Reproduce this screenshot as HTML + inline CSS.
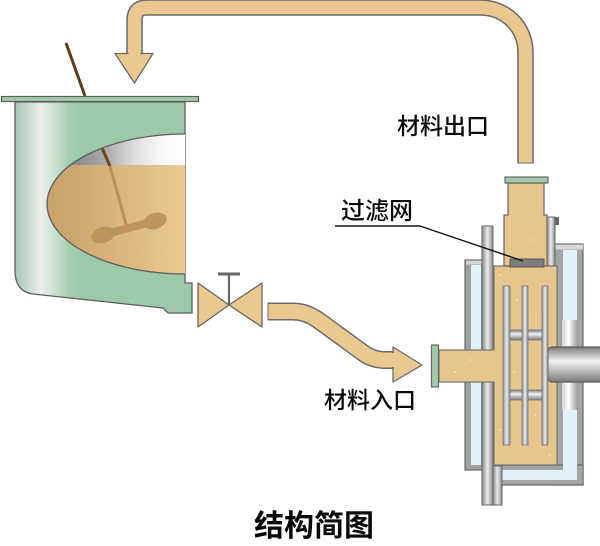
<!DOCTYPE html>
<html>
<head>
<meta charset="utf-8">
<style>
html,body{margin:0;padding:0;background:#fff;}
svg{display:block;}
text{font-family:"Liberation Sans","Noto Sans CJK SC","WenQuanYi Zen Hei",sans-serif;fill:#0a0a0a;}
</style>
</head>
<body>
<svg width="600" height="546" viewBox="0 0 600 546" xmlns="http://www.w3.org/2000/svg">
<defs>
  <linearGradient id="green" gradientUnits="userSpaceOnUse" x1="15" y1="0" x2="185" y2="0">
    <stop offset="0" stop-color="#a6c6b0"/>
    <stop offset="0.08" stop-color="#cbdcd1"/>
    <stop offset="0.15" stop-color="#eceeec"/>
    <stop offset="0.21" stop-color="#d6e5da"/>
    <stop offset="0.32" stop-color="#a4ceb0"/>
    <stop offset="0.4" stop-color="#9ccaa8"/>
    <stop offset="1" stop-color="#9ccaa8"/>
  </linearGradient>
  <linearGradient id="cutgray" gradientUnits="userSpaceOnUse" x1="60" y1="0" x2="185" y2="0">
    <stop offset="0" stop-color="#7a7a7a"/>
    <stop offset="0.35" stop-color="#a8a8a8"/>
    <stop offset="0.6" stop-color="#dedede"/>
    <stop offset="0.8" stop-color="#f8f8f8"/>
    <stop offset="1" stop-color="#ffffff"/>
  </linearGradient>
  <linearGradient id="liquid" gradientUnits="userSpaceOnUse" x1="47" y1="0" x2="185" y2="0">
    <stop offset="0" stop-color="#c8a06a"/>
    <stop offset="0.5" stop-color="#d9b47d"/>
    <stop offset="1" stop-color="#eccb93"/>
  </linearGradient>
  <linearGradient id="metalX" x1="0" y1="0" x2="1" y2="0">
    <stop offset="0" stop-color="#8a8a8a"/>
    <stop offset="0.5" stop-color="#ececec"/>
    <stop offset="1" stop-color="#8a8a8a"/>
  </linearGradient>
  <linearGradient id="metalY" x1="0" y1="0" x2="0" y2="1">
    <stop offset="0" stop-color="#7c7c7c"/>
    <stop offset="0.4" stop-color="#f2f2f2"/>
    <stop offset="1" stop-color="#7a7a7a"/>
  </linearGradient>
  <linearGradient id="bearing" x1="0" y1="0" x2="1" y2="0">
    <stop offset="0" stop-color="#d0d0d0"/>
    <stop offset="0.4" stop-color="#ffffff"/>
    <stop offset="1" stop-color="#9a9a9a"/>
  </linearGradient>
  <clipPath id="cutclip">
    <path d="M185,134 A138,70 0 0 0 185,274 Z"/>
  </clipPath>
</defs>

<rect width="600" height="546" fill="#fff"/>

<!-- ===== top return pipe ===== -->
<path d="M134.5,54 L134.5,20 Q134.5,7.5 147,7.5 L480,7.5 C506,7.5 525.5,27 525.5,53 L525.5,163.5" fill="none" stroke="#6a6a6a" stroke-width="16.5"/>
<path d="M134.5,55 L134.5,20 Q134.5,7.5 147,7.5 L480,7.5 C506,7.5 525.5,27 525.5,53 L525.5,162.5" fill="none" stroke="#eac990" stroke-width="13.5"/>
<polygon points="115,53.5 153,53.5 134.5,83" fill="#eac990" stroke="#6a6a6a" stroke-width="1.3" stroke-linejoin="round"/>
<rect x="128.5" y="52.5" width="12" height="2.5" fill="#eac990"/>

<!-- ===== tank ===== -->
<line x1="66" y1="43" x2="85" y2="96" stroke="#5c3c1c" stroke-width="3"/>
<path d="M15,102 L185,102 L185,283 L192,283 L192,313 L168,313 L163,308 L33,294 Q15,292 15,270 Z" fill="url(#green)" stroke="#5e5e5e" stroke-width="1.3"/>
<rect x="1.5" y="96.5" width="197" height="5" fill="#a0cba9" stroke="#5e5e5e" stroke-width="1.2"/>

<g clip-path="url(#cutclip)">
  <rect x="40" y="130" width="150" height="36" fill="url(#cutgray)"/>
  <rect x="40" y="165" width="150" height="115" fill="url(#liquid)"/>
  <!-- shaft -->
  <line x1="102" y1="148" x2="110" y2="166" stroke="#6a4520" stroke-width="3"/>
  <line x1="110" y1="166" x2="127" y2="228" stroke="#b8905a" stroke-width="3"/>
  <!-- blade -->
  <g fill="#bd9559">
    <ellipse cx="103" cy="235" rx="12" ry="8" transform="rotate(-18 103 235)"/>
    <ellipse cx="155" cy="221" rx="12" ry="8" transform="rotate(-18 155 221)"/>
  </g>
  <line x1="103" y1="235" x2="155" y2="221" stroke="#bd9559" stroke-width="8"/>
</g>
<path d="M185,134 A138,70 0 0 0 185,274" fill="none" stroke="#5e5e5e" stroke-width="1.3"/>

<!-- ===== valve ===== -->
<line x1="229" y1="274" x2="229" y2="305" stroke="#666" stroke-width="2.2"/>
<line x1="218" y1="274" x2="240" y2="274" stroke="#666" stroke-width="3"/>
<polygon points="198,283 198,327 229,305" fill="#eac990" stroke="#666" stroke-width="1.3" stroke-linejoin="round"/>
<polygon points="262,283 262,327 229,305" fill="#eac990" stroke="#666" stroke-width="1.3" stroke-linejoin="round"/>

<!-- ===== inlet pipe ===== -->
<path d="M267.5,311.5 L293,311.5 Q306,311.5 318,320 L362,352 Q372,360 385,360 L395,360" fill="none" stroke="#6a6a6a" stroke-width="18"/>
<path d="M268.5,311.5 L293,311.5 Q306,311.5 318,320 L362,352 Q372,360 385,360 L396,360" fill="none" stroke="#eac990" stroke-width="15"/>
<polygon points="393,347 422,365 393,382" fill="#eac990" stroke="#6a6a6a" stroke-width="1.3" stroke-linejoin="round"/>
<rect x="391.5" y="353" width="3" height="14" fill="#eac990"/>

<!-- ===== centrifuge ===== -->
<!-- right housing -->
<rect x="554" y="244" width="29" height="241" fill="#a4a4a4" stroke="#666" stroke-width="1.2"/>
<rect x="500" y="465" width="83" height="20" fill="#a4a4a4" stroke="#666" stroke-width="1.2"/>
<rect x="554.6" y="466" width="28" height="18" fill="#a4a4a4"/>
<rect x="555" y="244.5" width="28" height="5" fill="#d8d8d8"/>
<rect x="563" y="250" width="14" height="70" fill="#e2f2fa"/>
<rect x="562" y="320" width="16" height="27" fill="url(#bearing)"/>
<rect x="562" y="382" width="16" height="28" fill="url(#bearing)"/>
<path d="M563,410 H577 V480 H502 V470 H563 Z" fill="#e2f2fa"/>

<!-- left housing -->
<rect x="465" y="260" width="18" height="210" fill="#a0a0a0" stroke="#666" stroke-width="1.2"/>
<rect x="466" y="260.5" width="17" height="4" fill="#d4d4d4"/>
<rect x="471" y="265" width="10" height="200" fill="#e2f2fa"/>

<!-- vertical pipe -->
<rect x="482" y="226" width="11" height="279" fill="url(#metalX)" stroke="#666" stroke-width="1"/>
<rect x="493" y="466" width="9" height="39" fill="url(#metalX)" stroke="#666" stroke-width="1"/>

<!-- tan body -->
<path d="M494,266 H557 V465 H494 V382 H439 V350 H494 Z" fill="#e7c68d" stroke="#777" stroke-width="1.2"/>
<!-- inlet flange -->
<rect x="431.5" y="345" width="7" height="42" fill="#a0cba9" stroke="#666" stroke-width="1.2"/>

<!-- neck -->
<path d="M504,266 V215 H508 V183 H544 V215 H547 V266 Z" fill="#e7c68d" stroke="#666" stroke-width="1.2"/>
<rect x="505" y="177" width="43" height="6" fill="#a0cba9" stroke="#666" stroke-width="1.2"/>
<rect x="547" y="217" width="8" height="49" fill="url(#metalX)" stroke="#666" stroke-width="1"/>
<rect x="555" y="217" width="4" height="8" fill="#666"/>

<!-- filter -->
<rect x="510" y="259" width="34" height="8" fill="#7e7e7e" stroke="#555" stroke-width="1"/>

<!-- shaft -->
<rect x="548" y="347" width="60" height="35" rx="4" fill="url(#metalY)" stroke="#5a5a5a" stroke-width="1.2"/>

<!-- rotor -->
<rect x="508" y="330" width="37" height="10" fill="url(#metalY)" stroke="#777" stroke-width="0.8"/>
<rect x="508" y="390" width="37" height="10" fill="url(#metalY)" stroke="#777" stroke-width="0.8"/>
<rect x="503" y="286" width="7" height="159" fill="url(#metalX)" stroke="#777" stroke-width="0.8"/>
<rect x="522" y="286" width="6" height="159" fill="url(#metalX)" stroke="#777" stroke-width="0.8"/>
<rect x="542" y="286" width="6" height="159" fill="url(#metalX)" stroke="#777" stroke-width="0.8"/>

<!-- speckles -->
<g fill="#fff3dc">
  <circle cx="500" cy="275" r="0.8"/><circle cx="517" cy="300" r="0.8"/><circle cx="536" cy="320" r="0.8"/>
  <circle cx="514" cy="372" r="0.8"/><circle cx="535" cy="415" r="0.8"/><circle cx="500" cy="430" r="0.8"/>
  <circle cx="470" cy="360" r="0.8"/><circle cx="455" cy="372" r="0.8"/><circle cx="520" cy="200" r="0.8"/>
  <circle cx="533" cy="240" r="0.8"/><circle cx="550" cy="455" r="0.8"/>
</g>

<!-- leader line -->
<line x1="335" y1="226" x2="420" y2="226" stroke="#111" stroke-width="1.5"/>
<line x1="420" y1="226" x2="523" y2="261" stroke="#111" stroke-width="1.4"/>

<!-- labels -->
<text x="397" y="134" font-size="23" font-weight="500">材料出口</text>
<text x="341" y="219" font-size="24" font-weight="500">过滤网</text>
<text x="324" y="408" font-size="23" font-weight="500">材料入口</text>
<text x="254" y="536" font-size="30" font-weight="bold">结构简图</text>
</svg>
</body>
</html>
